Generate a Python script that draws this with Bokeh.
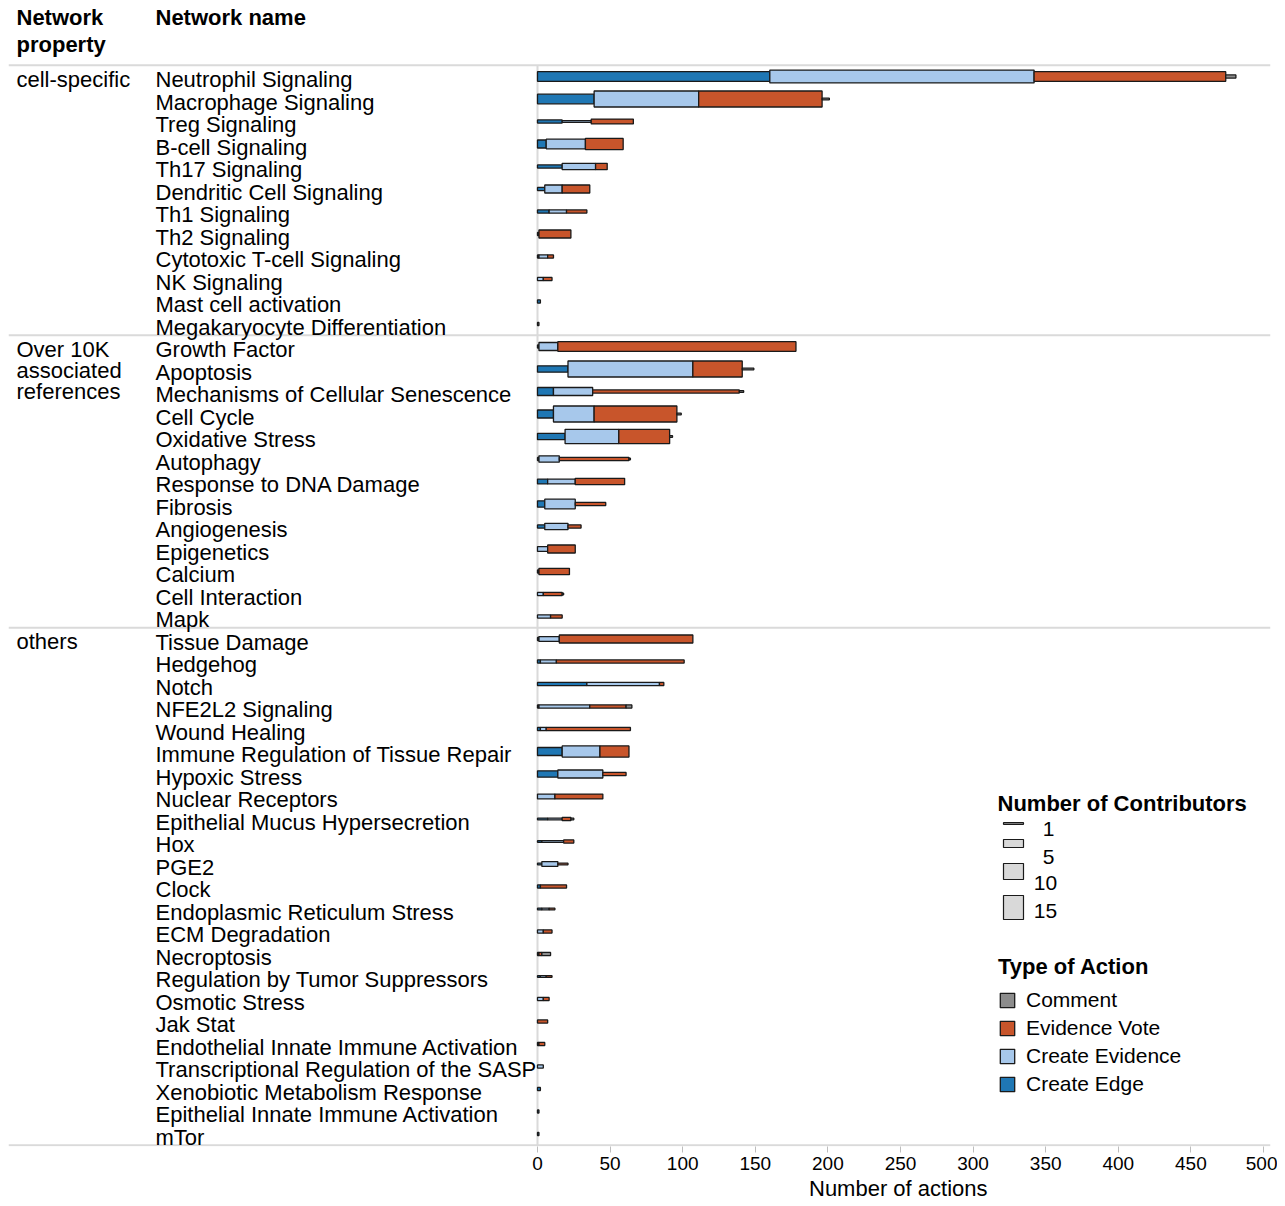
import numpy as np
from bokeh.plotting import figure
from bokeh.models import ColumnDataSource, Range1d, FixedTicker, Legend, LegendItem, Title
from bokeh.embed import file_html
from bokeh.resources import INLINE
from bokeh.core.properties import value

# ---------------- data ----------------
group_labels = ["cell-specific", "Over 10K\nassociated\nreferences", "others"]
group_sizes = [12, 13, 23]

network_names = [
    "Neutrophil Signaling", "Macrophage Signaling", "Treg Signaling", "B-cell Signaling",
    "Th17 Signaling", "Dendritic Cell Signaling", "Th1 Signaling", "Th2 Signaling",
    "Cytotoxic T-cell Signaling", "NK Signaling", "Mast cell activation",
    "Megakaryocyte Differentiation",
    "Growth Factor", "Apoptosis", "Mechanisms of Cellular Senescence", "Cell Cycle",
    "Oxidative Stress", "Autophagy", "Response to DNA Damage", "Fibrosis", "Angiogenesis",
    "Epigenetics", "Calcium", "Cell Interaction", "Mapk",
    "Tissue Damage", "Hedgehog", "Notch", "NFE2L2 Signaling", "Wound Healing",
    "Immune Regulation of Tissue Repair", "Hypoxic Stress", "Nuclear Receptors",
    "Epithelial Mucus Hypersecretion", "Hox", "PGE2", "Clock", "Endoplasmic Reticulum Stress",
    "ECM Degradation", "Necroptosis", "Regulation by Tumor Suppressors", "Osmotic Stress",
    "Jak Stat", "Endothelial Innate Immune Activation", "Transcriptional Regulation of the SASP",
    "Xenobiotic Metabolism Response", "Epithelial Innate Immune Activation", "mTor",
]

create_edge = [160, 39, 17, 6, 17, 5, 8, 1, 1, 0, 2, 0,
               1, 21, 11, 11, 19, 1, 7, 5, 5, 0, 1, 0, 0,
               1, 2, 34, 1, 2, 17, 14, 0, 7, 3, 3, 2, 3, 0, 1, 2, 0, 0, 1, 0, 2, 1, 1]
create_edge_n = [6, 6, 2, 5, 2, 2, 2, 2, 2, 0, 2, 0,
                 2, 4, 5, 5, 4, 2, 3, 4, 2, 0, 2, 0, 0,
                 2, 2, 2, 2, 2, 5, 4, 0, 1, 1, 1, 2, 1, 0, 2, 1, 0, 0, 2, 0, 2, 2, 2]
create_evidence = [182, 72, 20, 27, 23, 12, 12, 0, 6, 4, 0, 0,
                   13, 86, 27, 28, 37, 14, 19, 21, 16, 7, 0, 4, 9,
                   14, 11, 50, 35, 4, 26, 31, 12, 10, 15, 11, 0, 5, 4, 0, 4, 4, 0, 0, 4, 0, 0, 0]
create_evidence_n = [8, 10, 1, 6, 4, 5, 2, 0, 2, 2, 0, 0,
                     5, 10, 5, 10, 9, 4, 3, 6, 4, 3, 0, 2, 2,
                     3, 2, 2, 2, 2, 7, 5, 3, 1, 1, 3, 0, 1, 2, 0, 1, 2, 0, 0, 2, 0, 0, 0]
evidence_vote = [132, 85, 29, 26, 8, 19, 14, 22, 4, 6, 0, 0,
                 164, 34, 101, 57, 35, 48, 34, 21, 9, 19, 21, 13, 8,
                 92, 88, 3, 25, 58, 20, 16, 33, 6, 7, 7, 18, 4, 6, 2, 4, 4, 7, 4, 0, 0, 0, 0]
evidence_vote_n = [6, 10, 3, 7, 4, 5, 2, 5, 2, 2, 0, 0,
                   6, 10, 2, 10, 9, 2, 4, 2, 2, 5, 4, 2, 2,
                   5, 2, 2, 2, 2, 7, 2, 3, 2, 2, 1, 2, 1, 2, 2, 1, 2, 2, 2, 0, 0, 0, 0]
comment = [7, 5, 0, 0, 0, 0, 0, 0, 0, 0, 0, 1,
           0, 8, 3, 3, 2, 1, 0, 0, 0, 0, 0, 1, 0,
           0, 0, 0, 4, 0, 0, 0, 0, 2, 0, 0, 0, 0, 0, 6, 0, 0, 0, 0, 0, 0, 0, 0]
comment_n = [2, 1, 0, 0, 0, 0, 0, 0, 0, 0, 0, 2,
             0, 1, 1, 1, 1, 1, 0, 0, 0, 0, 0, 1, 0,
             0, 0, 0, 2, 0, 0, 0, 0, 1, 0, 0, 0, 0, 0, 2, 0, 0, 0, 0, 0, 0, 0, 0]

action_types = ["Create Edge", "Create Evidence", "Evidence Vote", "Comment"]
action_colors = ["#1F77B4", "#A7C8EB", "#C8552B", "#8C8C8C"]
legend_order = ["Comment", "Evidence Vote", "Create Evidence", "Create Edge"]
contrib_legend_values = [1, 5, 10, 15]
x_ticks = [0, 50, 100, 150, 200, 250, 300, 350, 400, 450, 500]

# ---------------- layout constants (page pixels) ----------------
FONT = "Liberation Sans"
PX_PER_UNIT_X = 1.452
X0_PX = 537.0
ROW_PX = 22.5
ROW0_PX = 76.0
K_PER_CONTRIB = 1.6 / ROW_PX  # bar thickness per contributor (row units)
FRAME_L, FRAME_R, FRAME_T, FRAME_B = 8, 1270, 8, 1146
W, H = 1277, 1204
AXIS_TITLE_WIDTH_PX = 177  # rendered width of the axis title text


def sx_to_x(px):
    return (px - X0_PX) / PX_PER_UNIT_X


def sy_to_y(py):
    return -(py - ROW0_PX) / ROW_PX


p = figure(width=W, height=H, output_backend="svg", toolbar_location=None,
           x_range=Range1d(sx_to_x(FRAME_L), sx_to_x(FRAME_R)),
           y_range=Range1d(sy_to_y(FRAME_B), sy_to_y(FRAME_T)),
           min_border_left=FRAME_L, min_border_right=W - FRAME_R,
           min_border_top=FRAME_T, min_border_bottom=H - FRAME_B,
           y_axis_location=None)
p.outline_line_color = None
p.grid.visible = False
p.background_fill_color = "white"
p.border_fill_color = "white"

n_rows = len(network_names)
row_y = -np.arange(n_rows, dtype=float)

# separators
bounds = np.concatenate([[0.5], 0.5 - np.cumsum(group_sizes)])
p.segment(x0=[sx_to_x(FRAME_L)] * len(bounds), x1=[sx_to_x(FRAME_R)] * len(bounds),
          y0=bounds, y1=bounds, line_color="#DADADA", line_width=2)
p.segment(x0=[0], x1=[0], y0=[bounds[0]], y1=[bounds[-1]], line_color="#DADADA", line_width=2)

# stacked bars
values = [create_edge, create_evidence, evidence_vote, comment]
contribs = [create_edge_n, create_evidence_n, evidence_vote_n, comment_n]
left = np.zeros(n_rows)
renderers = {}
for name, vals, ns, col in zip(action_types, values, contribs, action_colors):
    vals = np.array(vals, dtype=float)
    ns = np.array(ns, dtype=float)
    right = left + vals
    m = vals > 0
    src = ColumnDataSource(dict(y=row_y[m], left=left[m], right=right[m],
                                h=ns[m] * K_PER_CONTRIB, n=ns[m],
                                net=[network_names[i] for i in np.where(m)[0]]))
    r = p.hbar(y="y", left="left", right="right", height="h", source=src,
               fill_color=col, line_color="#1A1A1A", line_width=1.3)
    renderers[name] = r
    left = right

# row labels
p.text(x=[sx_to_x(155)] * n_rows, y=row_y, text=network_names,
       text_font=value(FONT), text_font_size="22px", text_baseline="middle",
       text_align="left", y_offset=3, text_color="black")

# group labels
starts = np.concatenate([[0], np.cumsum(group_sizes)[:-1]])
p.text(x=[sx_to_x(16)] * len(group_labels), y=[sy_to_y(ROW0_PX + ROW_PX * s - 10) for s in starts],
       text=group_labels, text_font=value(FONT), text_font_size="22px", text_baseline="top",
       text_align="left", text_line_height=0.85, text_color="black")

# headers
p.text(x=[sx_to_x(16), sx_to_x(155)], y=[sy_to_y(4), sy_to_y(4)],
       text=["Network\nproperty", "Network name"], text_font=value(FONT),
       text_font_size="22px", text_font_style="bold", text_baseline="top",
       text_align="left", text_line_height=1.08, text_color="black")

# x axis
ax = p.xaxis[0]
ax.ticker = FixedTicker(ticks=x_ticks)
ax.axis_line_color = None
ax.major_tick_line_color = "#BDBDBD"
ax.major_tick_in = 0
ax.major_tick_out = 6
ax.minor_tick_line_color = None
ax.major_label_standoff = 4
ax.major_label_text_font = FONT
ax.major_label_text_font_size = "19px"
ax.major_label_text_color = "black"

# axis title, centred on the 0-500 span of the axis (placed as a title below the axis)
title_center_px = X0_PX + (x_ticks[0] + x_ticks[-1]) / 2 * PX_PER_UNIT_X
p.add_layout(Title(text="Number of actions", align="left",
                   offset=title_center_px - AXIS_TITLE_WIDTH_PX / 2 - FRAME_L - 3,
                   text_font=FONT, text_font_size="22px", text_font_style="normal",
                   text_color="black", standoff=3), "below")

# contributors legend (size legend)
p.text(x=[sx_to_x(997)], y=[sy_to_y(803)], text=["Number of Contributors"],
       text_font=value(FONT), text_font_size="22px", text_font_style="bold",
       text_baseline="middle", text_align="left", text_color="black")
leg_rect_y = [sy_to_y(v) for v in (823, 843, 871, 907)]
p.rect(x=[sx_to_x(1013)] * 4, y=leg_rect_y, width=20 / PX_PER_UNIT_X,
       height=[v * K_PER_CONTRIB for v in contrib_legend_values],
       fill_color="#D9D9D9", line_color="#1A1A1A", line_width=1.2)
p.text(x=[sx_to_x(v) for v in (1048, 1048, 1045, 1045)],
       y=[sy_to_y(v) for v in (828, 856, 882, 910)],
       text=[str(v) for v in contrib_legend_values], text_font=value(FONT),
       text_font_size="21px", text_baseline="middle", text_align="center", text_color="black")

# type of action legend (location = bottom-left, pixels from frame bottom-left)
legend = Legend(items=[LegendItem(label=n, renderers=[renderers[n]]) for n in legend_order],
                location=(990, 50), title="Type of Action",
                title_text_font=FONT, title_text_font_size="22px", title_text_font_style="bold",
                title_text_color="black", title_standoff=8,
                label_text_font=FONT, label_text_font_size="21px", label_text_color="black",
                glyph_width=18, glyph_height=18, label_standoff=10, spacing=4,
                padding=0, margin=0, border_line_color=None, background_fill_alpha=0)
p.add_layout(legend)

open("out.html", "w").write(file_html(p, INLINE))
